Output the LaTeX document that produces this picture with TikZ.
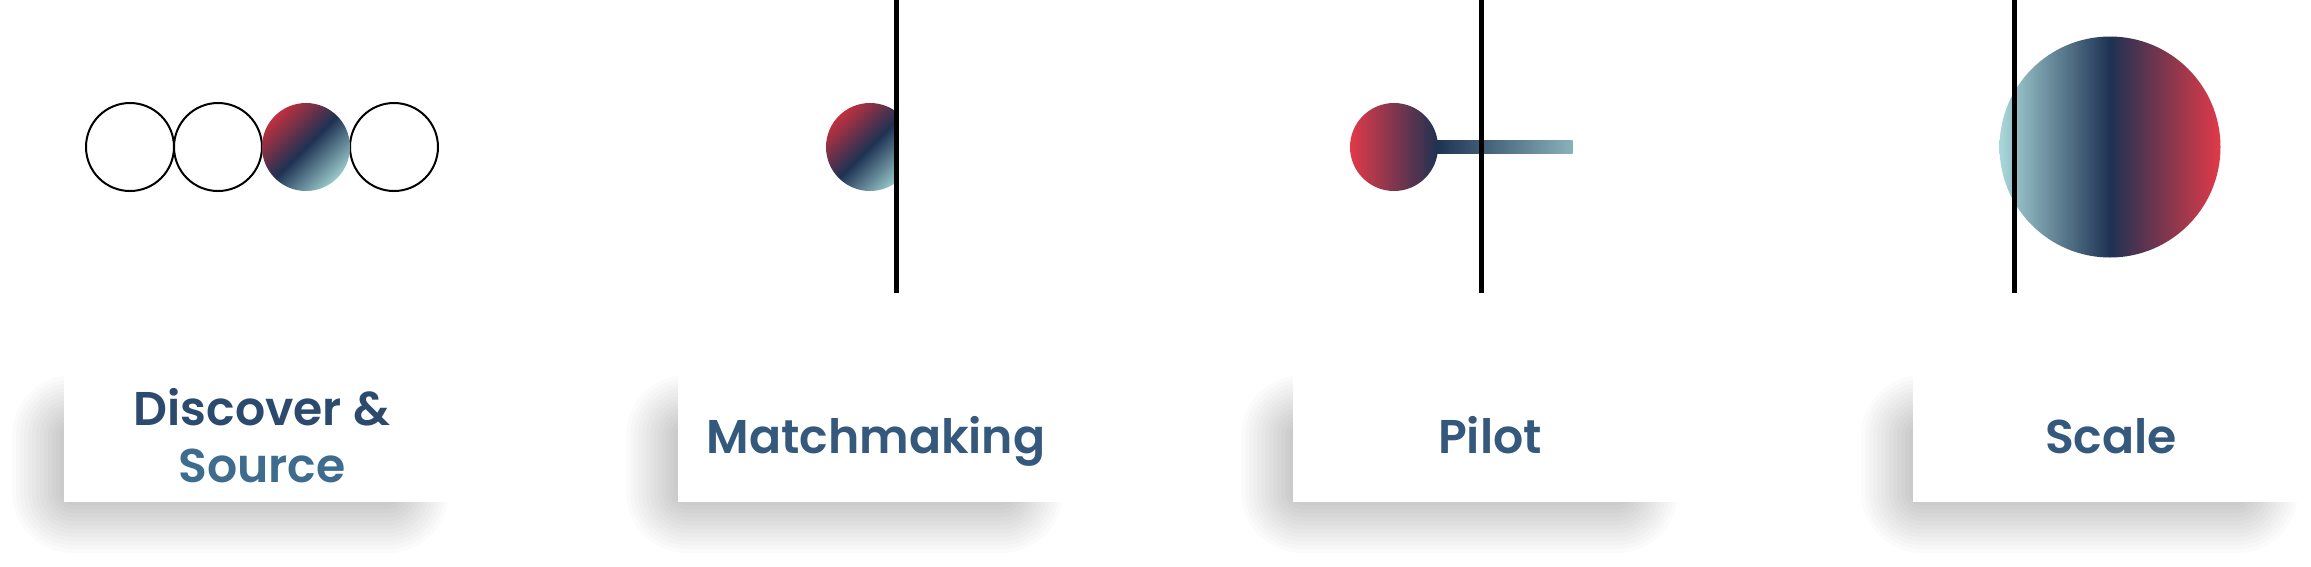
\documentclass[tikz,border=0pt]{standalone}
\usepackage{fontspec}
\setmainfont{Poppins}
\newfontfamily\lblfont{Poppins SemiBold}
\definecolor{cred}{HTML}{E13A49}
\definecolor{dred}{HTML}{C0303F}
\definecolor{cnavy}{HTML}{1E3253}
\definecolor{cteal}{HTML}{A9D8DA}
\definecolor{dteal}{HTML}{9ACACA}
\definecolor{bteal}{HTML}{88B2BA}
\definecolor{txtA}{HTML}{2C4A6E}
\definecolor{txtB}{HTML}{3E6C8F}
\definecolor{txtM}{HTML}{34597C}
\pgfdeclarehorizontalshading{diagshade}{100bp}{color(0bp)=(dred); color(25bp)=(dred); color(50bp)=(cnavy); color(75bp)=(dteal); color(100bp)=(dteal)}
\tikzset{
  box/.style={rectangle, fill=white, inner sep=0pt, outer sep=0pt, anchor=north west,
    minimum width=396*0.3pt, minimum height=129*0.3pt},
  ring/.style={circle, draw=black, line width=0.6pt, inner sep=0pt, minimum size=88*0.3pt},
  gdisc/.style={circle, inner sep=0pt, minimum size=88*0.3pt, shading=diagshade, shading angle=-45},
  vline/.style={line width=1.5pt, black},
  lbl/.style={inner sep=0pt, anchor=base, font=\lblfont\fontsize{14.2}{17}\selectfont, text=txtM},
}
\newcommand\dropshadow[1]{%
  \foreach \k in {0,...,15}{%
    \pgfmathsetmacro\e{30-\k*60/15}%
    \pgfmathsetmacro\rr{(\e+31)*0.3}%
    \fill[black, opacity=0.0155, rounded corners=\rr pt]
      (#1-22-\e, 405-\e) rectangle (#1+355+\e, 523+\e);
  }%
}
\begin{document}
\begin{tikzpicture}[x=0.3pt, y=-0.3pt]
\useasboundingbox (0,0) rectangle (2311,566);
\fill[white] (0,0) rectangle (2311,566);

% shadows and boxes
\dropshadow{64}
\dropshadow{678}
\dropshadow{1293}
\dropshadow{1913}
\node[box] (b1) at (64,373) {};
\node[box] (b2) at (678,373) {};
\node[box] (b3) at (1293,373) {};
\node[box] (b4) at (1913,373) {};

% labels
\node[lbl, text=txtA] (t1a) at (262,425) {Discover \&};
\node[lbl, text=txtB] (t1b) at (262,482) {Source};
\node[lbl] (t2) at (876,453) {Matchmaking};
\node[lbl] (t3) at (1490,453) {Pilot};
\node[lbl] (t4) at (2111,453) {Scale};

% stage 1: four circles
\node[ring] (c1) at (130,147) {};
\node[ring] (c2) at (218,147) {};
\node[ring] (c4) at (394,147) {};
\node[gdisc] (c3) at (306,147) {};

% stage 2: clipped disc and line
\begin{scope}
  \clip (780,0) rectangle (896.5,300);
  \node[gdisc] (m1) at (870,147) {};
\end{scope}
\coordinate (l2t) at (896.5,0);
\coordinate (l2b) at (896.5,293);
\draw[vline] (l2t) -- (l2b);

% stage 3: disc with bar
\node[rectangle, inner sep=0pt, anchor=west, minimum width=136*0.3pt, minimum height=13*0.3pt,
  left color=cnavy, right color=bteal] (p3bar) at (1436,146.5) {};
\node[circle, inner sep=0pt, minimum size=88*0.3pt, left color=cred, right color=cnavy] (p3) at (1394,147) {};
\coordinate (l3t) at (1481.5,0);
\coordinate (l3b) at (1481.5,293);
\draw[vline] (l3t) -- (l3b);

% stage 4: big disc
\node[circle, inner sep=0pt, minimum size=221*0.3pt, left color=cteal, right color=cred, middle color=cnavy] (s4) at (2110,147) {};
\coordinate (l4t) at (2014,0);
\coordinate (l4b) at (2014,293);
\draw[vline] (l4t) -- (l4b);
\end{tikzpicture}
\end{document}
